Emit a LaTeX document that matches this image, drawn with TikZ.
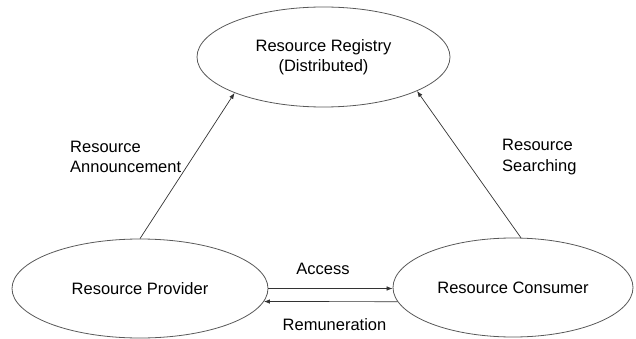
\documentclass[tikz,border=0pt]{standalone}
\usepackage{fontspec}
\setmainfont{Liberation Sans}
\usetikzlibrary{shapes.geometric,arrows.meta}
\begin{document}
\begin{tikzpicture}[x=1pt,y=1pt,
  font=\fontsize{16.5}{20.5}\selectfont,
  oval/.style={ellipse,draw=black!65,line width=0.8pt,inner sep=0pt,align=center},
  conn/.style={draw=black!80,line width=0.7pt,-{Latex[length=6pt,width=4.5pt]}},
  lbl/.style={inner sep=0pt,align=left}]
\useasboundingbox (0,0) rectangle (636,-339);
\node[oval,minimum width=253pt,minimum height=100pt] (T) at (323.5,-57) {Resource Registry\\(Distributed)};
\node[oval,minimum width=256pt,minimum height=99pt] (L) at (140,-288.5) {Resource Provider};
\node[oval,minimum width=240pt,minimum height=99pt] (R) at (513,-287.5) {Resource Consumer};
\draw[conn] (L.north) -- (T.202);
\draw[conn] (R.81) -- (T.-20);
\draw[conn] (L.east) -- (R.west |- L.east);
\draw[conn] (R.187.2) -- (L.-6.3);
\node[lbl,anchor=west] (a1) at (70,-157) {Resource\\Announcement};
\node[lbl,anchor=west] (a2) at (502,-157) {Resource\\Searching};
\node (ac) at (323,-269) {Access};
\node (rm) at (334.5,-325) {Remuneration};
\end{tikzpicture}
\end{document}
